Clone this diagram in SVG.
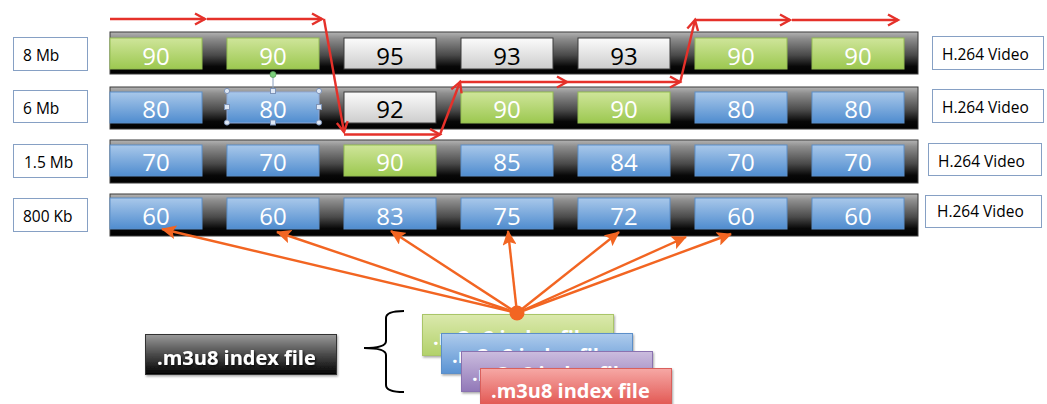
<svg xmlns="http://www.w3.org/2000/svg" width="1047" height="404" viewBox="0 0 1047 404">
<defs>
<linearGradient id="gBar" x1="0" y1="0" x2="0" y2="1">
<stop offset="0" stop-color="#b4b4b4"/><stop offset="0.15" stop-color="#8e8e8e"/><stop offset="0.55" stop-color="#4a4a4a"/><stop offset="0.82" stop-color="#080808"/><stop offset="1" stop-color="#000"/>
</linearGradient>
<linearGradient id="gGreen" x1="0" y1="0" x2="0" y2="1"><stop offset="0" stop-color="#cfe59a"/><stop offset="1" stop-color="#9cc850"/></linearGradient>
<linearGradient id="gBlue" x1="0" y1="0" x2="0" y2="1"><stop offset="0" stop-color="#a9c8ea"/><stop offset="1" stop-color="#4f8ccf"/></linearGradient>
<linearGradient id="gGray" x1="0" y1="0" x2="0" y2="1"><stop offset="0" stop-color="#fbfbfb"/><stop offset="1" stop-color="#cdcdcd"/></linearGradient>
<linearGradient id="gDark" x1="0" y1="0" x2="0" y2="1"><stop offset="0" stop-color="#9a9a9a"/><stop offset="0.5" stop-color="#4a4a4a"/><stop offset="1" stop-color="#000"/></linearGradient>
<linearGradient id="gIG" x1="0" y1="0" x2="0" y2="1"><stop offset="0" stop-color="#dbe9ad"/><stop offset="1" stop-color="#b2d16a"/></linearGradient>
<linearGradient id="gIB" x1="0" y1="0" x2="0" y2="1"><stop offset="0" stop-color="#aecbec"/><stop offset="1" stop-color="#5a93d3"/></linearGradient>
<linearGradient id="gIP" x1="0" y1="0" x2="0" y2="1"><stop offset="0" stop-color="#cbbcde"/><stop offset="1" stop-color="#9178b8"/></linearGradient>
<linearGradient id="gIR" x1="0" y1="0" x2="0" y2="1"><stop offset="0" stop-color="#f6a8a5"/><stop offset="1" stop-color="#e0504b"/></linearGradient>
<filter id="ts" x="-10%" y="-30%" width="120%" height="160%"><feDropShadow dx="1" dy="1.5" stdDeviation="0.8" flood-color="#000" flood-opacity="0.8"/></filter>
<filter id="bs" x="-5%" y="-10%" width="110%" height="130%"><feDropShadow dx="1" dy="1.5" stdDeviation="1" flood-color="#000" flood-opacity="0.35"/></filter>
<marker id="mRed" markerUnits="userSpaceOnUse" markerWidth="14" markerHeight="14" refX="11" refY="7" orient="auto">
<path d="M1,1.5 L11,7 L1,12.5" fill="none" stroke="#e5312a" stroke-width="2.4"/>
</marker>
<marker id="mOr" markerUnits="userSpaceOnUse" markerWidth="16" markerHeight="14" refX="14" refY="7" orient="auto">
<path d="M0,0 L15,7 L0,14 L3,7 z" fill="#f26522"/>
</marker>
</defs>
<style>
.lbl{fill:#fff;stroke:#86a0c4;stroke-width:1}
.lt{font-family:'Open Sans',sans-serif;font-size:15.5px;fill:#000}
.bar{fill:url(#gBar);stroke:#3a3a3a;stroke-width:1}
.sg{fill:url(#gGreen);stroke:#94bd52;stroke-width:1}
.sb{fill:url(#gBlue);stroke:#5c8fc9;stroke-width:1}
.sw{fill:url(#gGray);stroke:#3c3c3c;stroke-width:1}
.n{font-family:'Open Sans',sans-serif;font-size:24px;text-anchor:middle;fill:#fff}
.nk{font-family:'Open Sans',sans-serif;font-size:24px;text-anchor:middle;fill:#000}
.red{stroke:#e5312a;stroke-width:2.4;fill:none;marker-end:url(#mRed)}
.or{stroke:#f26522;stroke-width:2.4;fill:none;marker-end:url(#mOr)}
.idx{font-family:'Open Sans',sans-serif;font-weight:bold;font-size:20px;fill:#fff}
.hd{fill:#dfe8f5;stroke:#7d93b8;stroke-width:1}
</style>

<g id="label-8mb"><rect class="lbl" x="13.5" y="37.5" width="74" height="33"/><text class="lt" x="23" y="61">8 Mb</text></g>
<g id="label-6mb"><rect class="lbl" x="13.5" y="90.5" width="74" height="32"/><text class="lt" x="23" y="114">6 Mb</text></g>
<g id="label-15mb"><rect class="lbl" x="13.5" y="144.5" width="74" height="33"/><text class="lt" x="24" y="168">1.5 Mb</text></g>
<g id="label-800kb"><rect class="lbl" x="13.5" y="198.5" width="74" height="33"/><text class="lt" x="23" y="222">800 Kb</text></g>

<g id="codec-1"><rect class="lbl" x="932.5" y="36.5" width="111" height="33"/><text class="lt" x="942" y="60">H.264 Video</text></g>
<g id="codec-2"><rect class="lbl" x="932.5" y="89.5" width="111" height="33"/><text class="lt" x="942" y="113">H.264 Video</text></g>
<g id="codec-3"><rect class="lbl" x="928.5" y="143.5" width="113" height="32"/><text class="lt" x="938" y="167">H.264 Video</text></g>
<g id="codec-4"><rect class="lbl" x="925.5" y="195.5" width="116" height="32"/><text class="lt" x="937" y="217">H.264 Video</text></g>

<g id="row-8mb">
<rect class="bar" x="110" y="32" width="808" height="42"/>
<rect class="sg" x="110" y="38" width="92" height="31"/><text class="n" x="156" y="64.5">90</text>
<rect class="sg" x="227" y="38" width="92" height="31"/><text class="n" x="273" y="64.5">90</text>
<rect class="sw" x="344" y="38" width="92" height="31"/><text class="nk" x="390" y="64.5">95</text>
<rect class="sw" x="461" y="38" width="92" height="31"/><text class="nk" x="507" y="64.5">93</text>
<rect class="sw" x="578" y="38" width="92" height="31"/><text class="nk" x="624" y="64.5">93</text>
<rect class="sg" x="695" y="38" width="92" height="31"/><text class="n" x="741" y="64.5">90</text>
<rect class="sg" x="812" y="38" width="92" height="31"/><text class="n" x="858" y="64.5">90</text>
</g>

<g id="row-6mb">
<rect class="bar" x="110" y="87" width="808" height="42"/>
<rect class="sb" x="110" y="92" width="92" height="31"/><text class="n" x="156" y="118">80</text>
<rect class="sb" x="227" y="92" width="92" height="31" style="stroke:#8fa9d8"/><text class="n" x="273" y="118">80</text>
<rect class="sw" x="344" y="92" width="92" height="31"/><text class="nk" x="390" y="118">92</text>
<rect class="sg" x="461" y="92" width="92" height="31"/><text class="n" x="507" y="118">90</text>
<rect class="sg" x="578" y="92" width="92" height="31"/><text class="n" x="624" y="118">90</text>
<rect class="sb" x="695" y="92" width="92" height="31"/><text class="n" x="741" y="118">80</text>
<rect class="sb" x="812" y="92" width="92" height="31"/><text class="n" x="858" y="118">80</text>
</g>

<g id="selection-handles">
<line x1="273" y1="77" x2="273" y2="91" stroke="#8aa0c0" stroke-width="1"/>
<circle cx="273" cy="74.5" r="3" fill="#7ccf7c" stroke="#5aa05a" stroke-width="0.8"/>
<circle class="hd" cx="227" cy="91" r="2.6"/><circle class="hd" cx="319" cy="91" r="2.6"/>
<circle class="hd" cx="227" cy="122.5" r="2.6"/><circle class="hd" cx="319" cy="122.5" r="2.6"/>
<rect class="hd" x="270.5" y="88.5" width="5" height="5"/><rect class="hd" x="270.5" y="120" width="5" height="5"/>
<rect class="hd" x="224.5" y="104.5" width="5" height="5"/><rect class="hd" x="316.5" y="104.5" width="5" height="5"/>
</g>

<g id="row-15mb">
<rect class="bar" x="110" y="140" width="808" height="43"/>
<rect class="sb" x="110" y="145" width="92" height="31"/><text class="n" x="156" y="171">70</text>
<rect class="sb" x="227" y="145" width="92" height="31"/><text class="n" x="273" y="171">70</text>
<rect class="sg" x="344" y="145" width="92" height="31"/><text class="n" x="390" y="171">90</text>
<rect class="sb" x="461" y="145" width="92" height="31"/><text class="n" x="507" y="171">85</text>
<rect class="sb" x="578" y="145" width="92" height="31"/><text class="n" x="624" y="171">84</text>
<rect class="sb" x="695" y="145" width="92" height="31"/><text class="n" x="741" y="171">70</text>
<rect class="sb" x="812" y="145" width="92" height="31"/><text class="n" x="858" y="171">70</text>
</g>

<g id="row-800kb">
<rect class="bar" x="110" y="194" width="808" height="42"/>
<rect class="sb" x="110" y="198" width="92" height="31"/><text class="n" x="156" y="224.5">60</text>
<rect class="sb" x="227" y="198" width="92" height="31"/><text class="n" x="273" y="224.5">60</text>
<rect class="sb" x="344" y="198" width="92" height="31"/><text class="n" x="390" y="224.5">83</text>
<rect class="sb" x="461" y="198" width="92" height="31"/><text class="n" x="507" y="224.5">75</text>
<rect class="sb" x="578" y="198" width="92" height="31"/><text class="n" x="624" y="224.5">72</text>
<rect class="sb" x="695" y="198" width="92" height="31"/><text class="n" x="741" y="224.5">60</text>
<rect class="sb" x="812" y="198" width="92" height="31"/><text class="n" x="858" y="224.5">60</text>
</g>

<g id="index-label">
<rect x="145.5" y="334.5" width="191" height="40" fill="url(#gDark)" stroke="#333" stroke-width="1" filter="url(#bs)"/>
<text class="idx" x="157" y="364.5" filter="url(#ts)">.m3u8 index file</text>
</g>

<g id="brace">
<path d="M404,311 Q386,311 386,318 L386,341 Q386,348 364,348 Q386,348 386,355 L386,385 Q386,392 404,392" fill="none" stroke="#000" stroke-width="2"/>
</g>

<g id="index-green"><rect x="422.5" y="314.5" width="191" height="41" fill="url(#gIG)" stroke="#a9c567" stroke-width="1" filter="url(#bs)"/><text class="idx" x="433" y="344.5">.m3u8 index file</text></g>
<g id="index-blue"><rect x="441.5" y="333.5" width="191" height="40" fill="url(#gIB)" stroke="#5c8fc9" stroke-width="1" filter="url(#bs)"/><text class="idx" x="452" y="363">.m3u8 index file</text></g>
<g id="index-purple"><rect x="461.5" y="351.5" width="191" height="40" fill="url(#gIP)" stroke="#8a72b0" stroke-width="1" filter="url(#bs)"/><text class="idx" x="472" y="381">.m3u8 index file</text></g>
<g id="index-red"><rect x="480.5" y="368.5" width="191" height="40" fill="url(#gIR)" stroke="#d9605c" stroke-width="1" filter="url(#bs)"/><text class="idx" x="491" y="398">.m3u8 index file</text></g>

<g id="connectors">
<line class="red" x1="110" y1="19" x2="205" y2="19"/>
<line class="red" x1="207" y1="19" x2="322" y2="19"/>
<line class="red" x1="324" y1="19" x2="344" y2="132"/>
<line class="red" x1="344" y1="134.5" x2="440" y2="134.5"/>
<line class="red" x1="440" y1="134.5" x2="460" y2="82"/>
<line class="red" x1="459" y1="82" x2="567" y2="82"/>
<line class="red" x1="567" y1="82" x2="680" y2="82"/>
<line class="red" x1="680" y1="83" x2="695" y2="20"/>
<line class="red" x1="694" y1="20" x2="790" y2="20"/>
<line class="red" x1="792" y1="20" x2="898" y2="20"/>

<line class="or" x1="517" y1="313" x2="162" y2="229"/>
<line class="or" x1="517" y1="313" x2="277" y2="232"/>
<line class="or" x1="517" y1="313" x2="391" y2="231"/>
<line class="or" x1="517" y1="313" x2="508" y2="231"/>
<line class="or" x1="517" y1="313" x2="619" y2="232"/>
<line class="or" x1="517" y1="313" x2="686" y2="237"/>
<line class="or" x1="517" y1="313" x2="731" y2="234"/>
<circle cx="517" cy="313" r="7.5" fill="#f26522"/>
</g>
</svg>
